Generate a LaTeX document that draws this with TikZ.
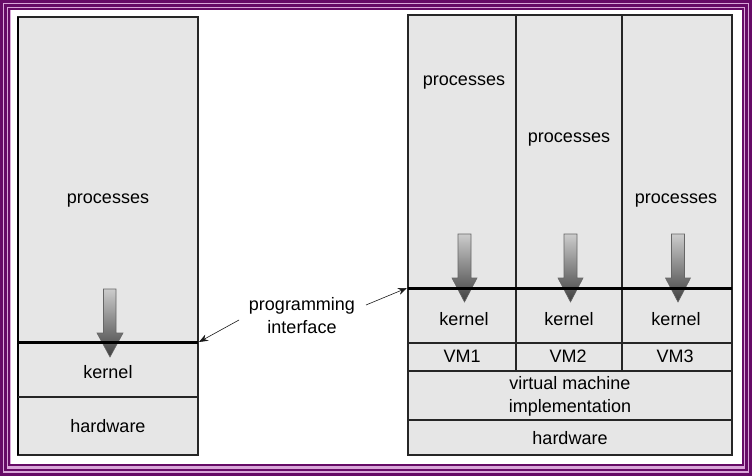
\documentclass[tikz,border=0pt]{standalone}
\usepackage{fontspec}
\setmainfont{Liberation Sans}
\usetikzlibrary{arrows.meta}
\definecolor{frame}{HTML}{660A66}
\definecolor{framelt}{HTML}{D9A6D9}
\definecolor{boxfill}{HTML}{E6E6E6}
\tikzset{
  layer/.style={draw=black!85, line width=1.3pt, fill=boxfill},
  sep/.style={draw=black!85, line width=1.3pt},
  iface/.style={draw=black, line width=3pt},
  lbl/.style={font=\fontsize{18}{23}\selectfont, align=center, inner sep=0pt},
  callarrow/.style={draw=black!90, line width=0.6pt, -{Stealth[length=9pt,width=7pt]}},
  bigarrow/.style={draw=black!60, line width=0.6pt, top color=black!20, bottom color=black!75}
}
\begin{document}
\begin{tikzpicture}[x=1pt,y=-1pt]
\useasboundingbox (0,0) rectangle (752,476);
% frame
\fill[framelt] (0,0) rectangle (752,476);
\draw[frame, line width=3pt] (1.5,1.5) rectangle (750.5,474.5);
\draw[frame, line width=2.5pt] (5.5,5.5) rectangle (746.5,470);
\draw[frame, line width=1.8pt] (9.3,9.3) rectangle (742.7,465);
\fill[white] (10.5,10.5) rectangle (741.5,463.5);

% left stack
\draw[layer] (18,17) rectangle (198,455);
\draw[draw=black, line width=2pt] (18,17) -- (18,455);
\draw[sep] (18,397) -- (198,397);
% left arrow
\draw[bigarrow] (103.5,289) -- (116,289) -- (116,333) -- (123,333) -- (110,357) -- (97,333) -- (103.5,333) -- cycle;
\draw[iface] (18,342) -- (198,342);
\coordinate (lend) at (199,342);
\node[lbl] (lproc) at (108,201) {processes};
\node[lbl] (lkern) at (108,372) {kernel};
\node[lbl] (lhw) at (108,426) {hardware};

% right stack
\draw[layer] (408,15) rectangle (732,455);
\draw[sep] (516,15) -- (516,371);
\draw[sep] (622,15) -- (622,371);
\draw[sep] (408,343) -- (732,343);
\draw[sep] (408,371) -- (732,371);
\draw[sep] (408,420) -- (732,420);
\foreach \cx in {464.5,570.5,678} {
  \draw[bigarrow] (\cx-6.5,234) -- (\cx+6.5,234) -- (\cx+6.5,278) -- (\cx+12.5,278) -- (\cx,302) -- (\cx-12.5,278) -- (\cx-6.5,278) -- cycle;
}
\draw[iface] (408,288) -- (732,288);
\coordinate (rend) at (407,288);
\node[lbl] (p1) at (464,83) {processes};
\node[lbl] (p2) at (569,140) {processes};
\node[lbl] (p3) at (676,201) {processes};
\node[lbl] (k1) at (464,319) {kernel};
\node[lbl] (k2) at (569,319) {kernel};
\node[lbl] (k3) at (676,319) {kernel};
\node[lbl] (vm1) at (462,356) {VM1};
\node[lbl] (vm2) at (568,356) {VM2};
\node[lbl] (vm3) at (675,356) {VM3};
\node[lbl] (vmi) at (570,396) {virtual machine\\implementation};
\node[lbl] (rhw) at (570,438) {hardware};

% programming interface
\node[lbl] (pi) at (302,316) {programming\\interface};
\draw[callarrow] (239,320) -- (lend);
\draw[callarrow] (366,305) -- (rend);
\end{tikzpicture}
\end{document}
